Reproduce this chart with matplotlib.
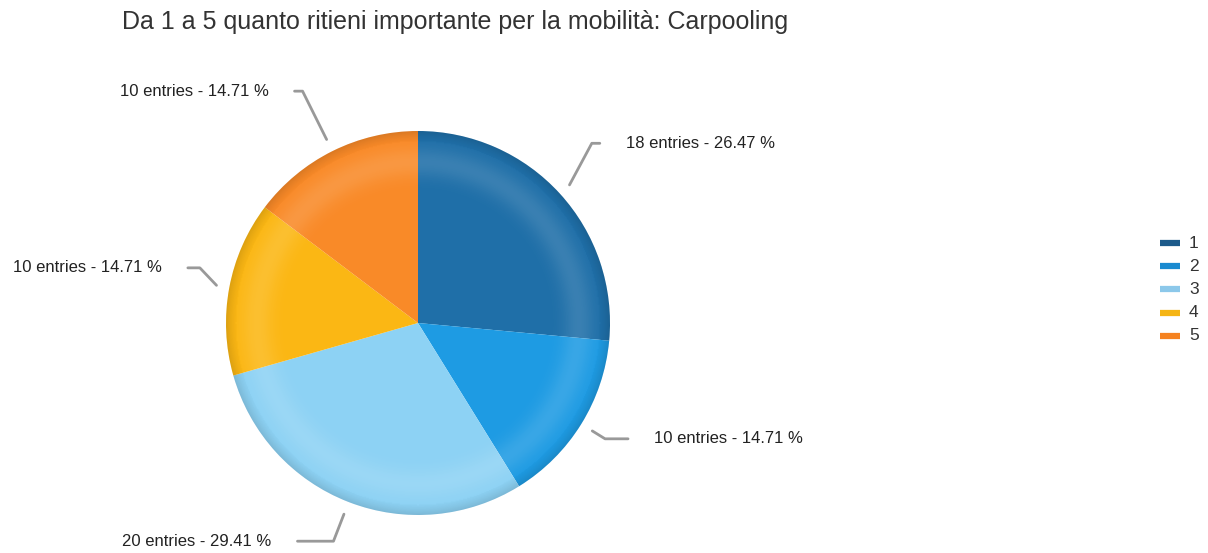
import numpy as np
import matplotlib.pyplot as plt
from matplotlib.patches import Circle

plt.rcParams['font.family'] = ['Liberation Sans', 'DejaVu Sans']

# Risposte al sondaggio (scala 1-5)
categories = ["1", "2", "3", "4", "5"]
counts = [18, 10, 20, 10, 10]
slice_colors = ["#1f6fa8", "#1e9be3", "#8dd2f4", "#fbb714", "#f98a28"]
legend_colors = ["#1c5a8a", "#1a8ad0", "#8cc8ea", "#f5b515", "#f58220"]
title = "Da 1 a 5 quanto ritieni importante per la mobilità: Carpooling"

W, H = 1208, 553
fig = plt.figure(figsize=(W / 100, H / 100), dpi=100)
ax = fig.add_axes([0, 0, 1, 1])

cx, cy, R = 418, H - 323, 192

wedges, _ = ax.pie(counts, colors=slice_colors, startangle=90, counterclock=False,
                   center=(cx, cy), radius=R, frame=True,
                   wedgeprops=dict(linewidth=0))

# ombreggiatura radiale (bordo scuro, anello chiaro)
n = 400
xs = np.linspace(-1, 1, n)
X, Y = np.meshgrid(xs, xs)
r = np.sqrt(X ** 2 + Y ** 2)
light = np.exp(-((r - 0.84) / 0.08) ** 2) * 0.12
dark = np.clip((r - 0.93) / 0.07, 0, 1) ** 1.5 * 0.12
shade = np.zeros((n, n, 4))
shade[..., :3] = np.where((dark > light)[..., None], 0.0, 1.0)
shade[..., 3] = np.maximum(light, dark)
img = ax.imshow(shade, extent=(cx - R, cx + R, cy - R, cy + R), zorder=3,
                interpolation="bilinear")
img.set_clip_path(Circle((cx, cy), R, transform=ax.transData))

# etichette con linee di richiamo
total = sum(counts)
elbow_r = [250, 220, 234, 225, 259]
elbow_da = [3.6, 0, 0, -3.6, 0]
hlen = [8, 23, 36, 12, 8]
start = 90.0
for i, c in enumerate(counts):
    span = 360.0 * c / total
    mid = start - span / 2
    start -= span
    a0 = np.deg2rad(mid)
    a1 = np.deg2rad(mid + elbow_da[i])
    x0, y0 = cx + (R + 13) * np.cos(a0), cy + (R + 13) * np.sin(a0)
    x1, y1 = cx + elbow_r[i] * np.cos(a1), cy + elbow_r[i] * np.sin(a1)
    side = 1 if np.cos(a0) >= 0 else -1
    x2 = x1 + side * hlen[i]
    ax.plot([x0, x1, x2], [y0, y1, y1], color="#999999", lw=2,
            solid_capstyle="round", zorder=4)
    pct = 100.0 * c / total
    ax.text(x2 + side * 26, y1, f"{c} entries - {pct:.2f} %",
            ha="left" if side > 0 else "right", va="center",
            fontsize=12, color="#222222")

# titolo
fig.text(122 / W, 1 - 22 / H, title, ha="left", va="center",
         fontsize=18, color="#333333")

# legenda
for i, (lab, col) in enumerate(zip(categories, legend_colors)):
    ly = H - (243 + i * 23.2)
    ax.plot([1160, 1180], [ly, ly], color=col, lw=4.5, solid_capstyle="butt")
    ax.text(1189, ly, lab, ha="left", va="center", fontsize=12.5, color="#333333")

ax.set_xlim(0, W)
ax.set_ylim(0, H)
ax.axis("off")

fig.savefig("out.png", dpi=100)
